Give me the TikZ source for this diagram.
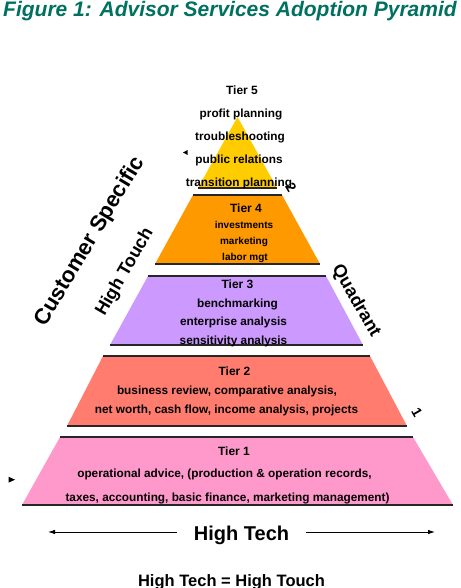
\documentclass[tikz,border=0pt]{standalone}
\usepackage{fontspec}
\setmainfont{Liberation Sans}
\usetikzlibrary{arrows.meta}
\definecolor{titleteal}{RGB}{0,112,96}
\definecolor{tierfive}{RGB}{255,204,0}
\definecolor{tierfour}{RGB}{255,153,0}
\definecolor{tierthree}{RGB}{204,153,255}
\definecolor{tiertwo}{RGB}{255,124,110}
\definecolor{tierone}{RGB}{255,153,204}
\begin{document}
\begin{tikzpicture}[
    x=1pt, y=-1pt,
    tieredge/.style={line width=1.4pt, draw=black!85},
    tiertitle/.style={anchor=base, inner sep=0pt, font=\bfseries\fontsize{12}{14}\selectfont},
    tieritem/.style={anchor=base, inner sep=0pt, font=\bfseries\fontsize{11.8}{14}\selectfont},
    smallitem/.style={anchor=base, inner sep=0pt, font=\bfseries\fontsize{10}{12}\selectfont},
    sidelabel/.style={inner sep=0pt, font=\bfseries\fontsize{22}{26}\selectfont},
    sidenote/.style={inner sep=0pt, font=\bfseries\fontsize{18}{22}\selectfont},
    tipmark/.style={fill=black},
    techarrow/.style={-{Latex[length=7pt,width=4.5pt]}, line width=0.8pt},
]
\useasboundingbox (0,0) rectangle (460,588);
% title
\node[anchor=base, inner sep=0pt, text=titleteal, font=\bfseries\itshape\fontsize{21}{25}\selectfont] (title) at (230,17) {Figure 1: Advisor Services Adoption Pyramid};

% pyramid tiers
\fill[tierfive] (237.5,117) -- (277,188) -- (198,188) -- cycle;
\draw[tieredge] (198,188) -- (277,188);
\fill[tierfour] (193,195) -- (282,195) -- (320,264) -- (155,264) -- cycle;
\draw[tieredge] (193,195) -- (282,195);
\draw[tieredge] (155,264) -- (320,264);
\fill[tierthree] (148,276) -- (326,276) -- (363,345) -- (110,345) -- cycle;
\draw[tieredge] (148,276) -- (326,276);
\draw[tieredge] (110,345) -- (363,345);
\fill[tiertwo] (103,356) -- (370,356) -- (407,426) -- (67,426) -- cycle;
\draw[tieredge] (103,356) -- (370,356);
\draw[tieredge] (67,426) -- (407,426);
\fill[tierone] (60,437) -- (413,437) -- (453,505) -- (22,505) -- cycle;
\draw[tieredge] (60,437) -- (413,437);
\draw[tieredge] (22,505) -- (453,505);

% tier texts
\node[tiertitle] (t5label) at (242,95) {Tier 5};
\node[tieritem] (t5a) at (241,118) {profit planning};
\node[tieritem] (t5b) at (240,141) {troubleshooting};
\node[tieritem] (t5c) at (239,163.5) {public relations};
\node[tieritem] (t5d) at (239,186) {transition planning};

\node[tiertitle] (t4label) at (246,212) {Tier 4};
\node[smallitem] (t4a) at (244,228) {investments};
\node[smallitem] (t4b) at (244,244.5) {marketing};
\node[smallitem] (t4c) at (245,260.5) {labor mgt};

\node[tiertitle] (t3label) at (237.5,288.5) {Tier 3};
\node[tieritem] (t3a) at (237.5,307) {benchmarking};
\node[tieritem] (t3b) at (233.5,325.7) {enterprise analysis};
\node[tieritem] (t3c) at (233.5,344.3) {sensitivity analysis};

\node[tiertitle] (t2label) at (234.5,375.5) {Tier 2};
\node[tieritem] (t2a) at (227,394) {business review, comparative analysis,};
\node[tieritem] (t2b) at (226.5,413) {net worth, cash flow, income analysis, projects};

\node[tiertitle] (t1label) at (234,455) {Tier 1};
\node[tieritem] (t1a) at (224.5,477.5) {operational advice, (production \& operation records,};
\node[tieritem] (t1b) at (227.5,501.5) {taxes, accounting, basic finance, marketing management)};

% side labels
\node[sidelabel, rotate=59] (custspec) at (90,241.5) {Customer Specific};
\node[sidenote, rotate=60] (hightouch) at (125,272) {High Touch};
\node[sidenote, rotate=-60] (quadrant) at (356,301) {Quadrant};
\node[inner sep=0pt, rotate=-60, font=\bfseries\fontsize{14}{16}\selectfont] (qtwo) at (291,187) {2};
\node[inner sep=0pt, rotate=-60, font=\bfseries\fontsize{14}{16}\selectfont] (qone) at (417,412) {1};
\fill[tipmark] (187.5,150) -- (183,152.5) -- (187.5,155) -- cycle;
\fill[tipmark] (8.5,476.7) -- (15,479.7) -- (8.5,482.7) -- cycle;

% bottom
\node[anchor=base, inner xsep=17pt, inner ysep=0pt, font=\bfseries\fontsize{20}{24}\selectfont] (hightech) at (241.5,540) {High Tech};
\coordinate (techL) at (48,532);
\coordinate (techR) at (435,532);
\draw[techarrow] (hightech.west |- techL) -- (techL);
\draw[techarrow] (hightech.east |- techR) -- (techR);
\node[anchor=base, inner sep=0pt, font=\bfseries\fontsize{16.5}{20}\selectfont] (motto) at (231.5,586) {High Tech = High Touch};
\end{tikzpicture}
\end{document}
